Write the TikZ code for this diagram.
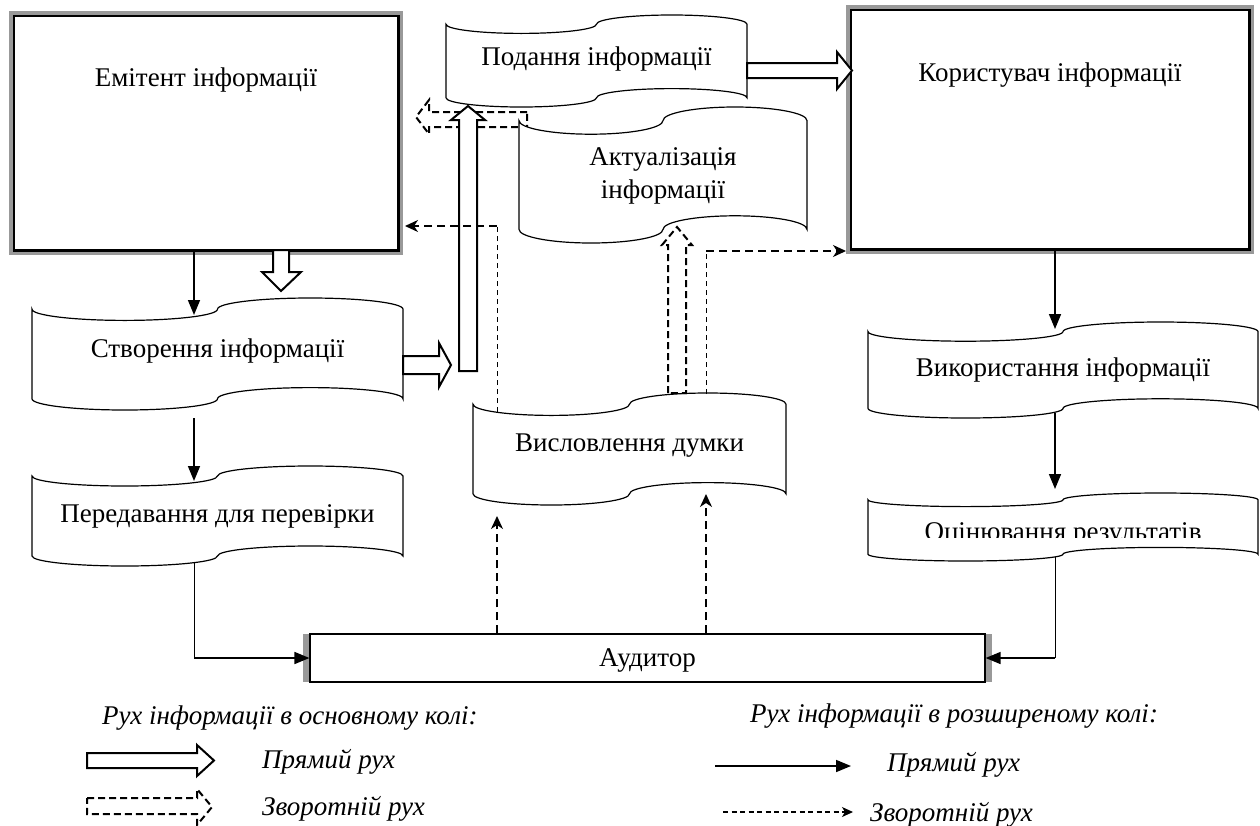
\documentclass[tikz,border=0pt]{standalone}
\usepackage{fontspec}
\setmainfont{Liberation Serif}
\usetikzlibrary{arrows.meta}

\tikzset{
  txt/.style={font=\fontsize{27}{33}\selectfont, inner sep=0pt, text=black},
  ltxt/.style={font=\fontsize{27}{33}\selectfont\itshape, inner sep=0pt, anchor=west},
  tapeline/.style={draw=black, line width=1.2pt, fill=white},
  mainbox/.style={draw=black, line width=1.5pt, fill=white, inner sep=0pt},
  grayband/.style={draw=black!40, line width=4pt},
  blk/.style={draw=black, line width=2pt, fill=white, line join=miter},
  dblk/.style={draw=black, line width=2pt, dash pattern=on 7pt off 4pt, line join=miter},
  solidarr/.style={line width=1.6pt, -{Triangle[length=15pt,width=12pt]}},
  thinline/.style={line width=0.9pt},
  dasharr/.style={line width=1.6pt, dash pattern=on 8pt off 5pt, -{Stealth[length=13pt,width=12pt,inset=4pt]}},
  thindash/.style={line width=0.9pt, dash pattern=on 5pt off 4pt},
}

\newcommand\tapebox[7]{%
  \pgfmathsetmacro\tpQ{(#4-#2)/4}%
  \pgfmathsetmacro\tpA{(#5-#3)/10}%
  \pgfmathsetmacro\tpK{0.5523}%
  \pgfmathsetmacro\tpXa{#2}%
  \pgfmathsetmacro\tpXb{#2+\tpQ*(1-\tpK)}%
  \pgfmathsetmacro\tpXc{#2+\tpQ}%
  \pgfmathsetmacro\tpXd{#2+\tpQ*(1+\tpK)}%
  \pgfmathsetmacro\tpXm{#2+2*\tpQ}%
  \pgfmathsetmacro\tpXe{#2+\tpQ*(3-\tpK)}%
  \pgfmathsetmacro\tpXf{#2+3*\tpQ}%
  \pgfmathsetmacro\tpXg{#2+\tpQ*(3+\tpK)}%
  \pgfmathsetmacro\tpXh{#4}%
  \pgfmathsetmacro\tpYa{#3+\tpA}%
  \pgfmathsetmacro\tpYap{#3+\tpA*(1+\tpK)}%
  \pgfmathsetmacro\tpYam{#3+\tpA*(1-\tpK)}%
  \pgfmathsetmacro\tpYlo{#3+2*\tpA}%
  \pgfmathsetmacro\tpYhi{#3}%
  \pgfmathsetmacro\tpBa{#5-\tpA}%
  \pgfmathsetmacro\tpBap{#5-\tpA*(1-\tpK)}%
  \pgfmathsetmacro\tpBam{#5-\tpA*(1+\tpK)}%
  \pgfmathsetmacro\tpBlo{#5}%
  \pgfmathsetmacro\tpBhi{#5-2*\tpA}%
  \path[tapeline] (\tpXa,\tpYa) .. controls (\tpXa,\tpYap) and (\tpXb,\tpYlo) .. (\tpXc,\tpYlo)
    .. controls (\tpXd,\tpYlo) and (\tpXm,\tpYap) .. (\tpXm,\tpYa)
    .. controls (\tpXm,\tpYam) and (\tpXe,\tpYhi) .. (\tpXf,\tpYhi)
    .. controls (\tpXg,\tpYhi) and (\tpXh,\tpYam) .. (\tpXh,\tpYa)
    -- (\tpXh,\tpBa)
    .. controls (\tpXh,\tpBam) and (\tpXg,\tpBhi) .. (\tpXf,\tpBhi)
    .. controls (\tpXe,\tpBhi) and (\tpXm,\tpBam) .. (\tpXm,\tpBa)
    .. controls (\tpXm,\tpBap) and (\tpXd,\tpBlo) .. (\tpXc,\tpBlo)
    .. controls (\tpXb,\tpBlo) and (\tpXa,\tpBap) .. (\tpXa,\tpBa)
    -- cycle;
  \pgfmathsetmacro\tpW{#4-#2}\pgfmathsetmacro\tpH{#5-#3}%
  \node[txt, align=center, minimum width=\tpW pt, minimum height=\tpH pt] (#1) at ({(#2+#4)/2},{(#3+#5)/2+#7}) {#6};
}

\begin{document}
\begin{tikzpicture}[x=1pt, y=-1pt]
\useasboundingbox[fill=white] (0,0) rectangle (1260,825);

% ---------- main boxes ----------
\node[mainbox, minimum width=384pt, minimum height=234pt] (emit) at (206,133) {};
\draw[grayband] ([shift={(-2,-2)}]emit.north west) rectangle ([shift={(2,2)}]emit.south east);
\draw[line width=1.5pt] (emit.north west) rectangle (emit.south east);
\node[txt] (emitT) at (206,80) {Емітент інформації};

\node[mainbox, minimum width=398pt, minimum height=239pt] (kor) at (1050,129.5) {};
\draw[grayband] ([shift={(-2,-2)}]kor.north west) rectangle ([shift={(2,2)}]kor.south east);
\draw[line width=1.5pt] (kor.north west) rectangle (kor.south east);
\node[txt] (korT) at (1050,75) {Користувач інформації};

\fill[black!40] (303,634) rectangle (310,682);
\fill[black!40] (985,634) rectangle (992,682);
\node[mainbox, line width=1.2pt, minimum width=675pt, minimum height=48pt] (aud) at (647.5,658) {};
\node[txt] (audT) at (647.5,660) {Аудитор};

% ---------- dashed hollow arrow (behind) ----------
\draw[dblk] (527,112) -- (429,112) -- (429,100) -- (416,117) -- (429,134) -- (429,127) -- (527,127) -- cycle;

% ---------- tape shapes ----------
\tapebox{pod}{446}{15}{747}{107}{Подання інформації}{-2}
\tapebox{akt}{519}{107}{807}{243}{Актуалізація\\інформації}{1}
\tapebox{stv}{32}{298}{403}{410}{Створення інформації}{-3}
\tapebox{per}{32}{466}{403}{566}{Передавання для перевірки}{0}
\tapebox{vys}{473}{393}{786}{505}{Висловлення думки}{-3}
\tapebox{vyk}{868}{322}{1258}{418}{Використання інформації}{0}
\tapebox{oci}{868}{493}{1258}{561}{}{0}
\begin{scope}
  \clip (868,480) rectangle (1258,537.5);
  \node[txt, anchor=base] (ociT) at (1063,540) {Оцінювання результатів};
\end{scope}

% ---------- hollow block arrows ----------
\draw[blk] (273,250) -- (289,250) -- (289,272) -- (301,272) -- (281,291) -- (262,272) -- (273,272) -- cycle;
\draw[blk] (403,356) -- (439,356) -- (439,343) -- (451,365) -- (439,387) -- (439,374) -- (403,374) -- cycle;
\draw[blk] (459,371) -- (459,120) -- (451,120) -- (468,106) -- (485,120) -- (477,120) -- (477,371) -- cycle;
\draw[blk] (747,63) -- (837,63) -- (837,52) -- (852,70.5) -- (837,89) -- (837,78) -- (747,78) -- cycle;
\draw[dblk] (668,393) -- (668,245) -- (662,245) -- (677,227) -- (692,245) -- (686,245) -- (686,393) -- cycle;

% ---------- connectors: coordinates ----------
\coordinate (f1a) at (497,412);
\coordinate (f1b) at (497,226);
\coordinate (f1c) at (405,226);
\coordinate (f2a) at (706,394);
\coordinate (f2b) at (706,251);
\coordinate (f2c) at (846,251);
\coordinate (p1) at (194,562);
\coordinate (p2) at (194,658);
\coordinate (o1) at (1055,557);
\coordinate (o2) at (1055,658);

% feedback (extended circle)
\draw[thindash] (f1a) -- (f1b);
\draw[dasharr] (f1b) -- (f1c);
\draw[thindash] (f2a) -- (f2b);
\draw[dasharr] (f2b) -- (f2c);
\draw[dasharr] (aud.north -| 497,0) -- (497,516);
\draw[dasharr] (aud.north -| 706,0) -- (706,494);

% direct (extended circle)
\draw[solidarr] (emit.south -| 194,0) -- (194,315);
\draw[solidarr] (194,418) -- (194,481);
\draw[thinline] (p1) -- (p2);
\draw[solidarr] (p2) -- (aud.west |- p2);
\draw[solidarr] (kor.south -| 1055,0) -- (1055,329);
\draw[solidarr] (1055,413) -- (1055,489);
\draw[thinline] (o1) -- (o2);
\draw[solidarr] (o2) -- (aud.east |- o2);

% ---------- legend ----------
\node[ltxt] (lh1) at (102,718) {Рух інформації в основному колі:};
\draw[blk] (87,753) -- (197,753) -- (197,745) -- (214,760.5) -- (197,776) -- (197,768) -- (87,768) -- cycle;
\node[ltxt] (lp1) at (262,762) {Прямий рух};
\draw[dblk] (87,798) -- (197,798) -- (197,789) -- (212,807) -- (197,825) -- (197,814) -- (87,814) -- cycle;
\node[ltxt] (lz1) at (262,809) {Зворотній рух};

\node[ltxt] (lh2) at (750,716) {Рух інформації в розширеному колі:};
\coordinate (ls1) at (715,766);
\coordinate (ls2) at (851,766);
\draw[solidarr] (ls1) -- (ls2);
\node[ltxt] (lp2) at (887,765) {Прямий рух};
\coordinate (ld1) at (723,812);
\coordinate (ld2) at (853,812);
\draw[line width=1.2pt, dash pattern=on 5pt off 3.5pt, -{Stealth[length=11pt,width=10pt,inset=3pt]}] (ld1) -- (ld2);
\node[ltxt] (lz2) at (870,815) {Зворотній рух};
\end{tikzpicture}
\end{document}
